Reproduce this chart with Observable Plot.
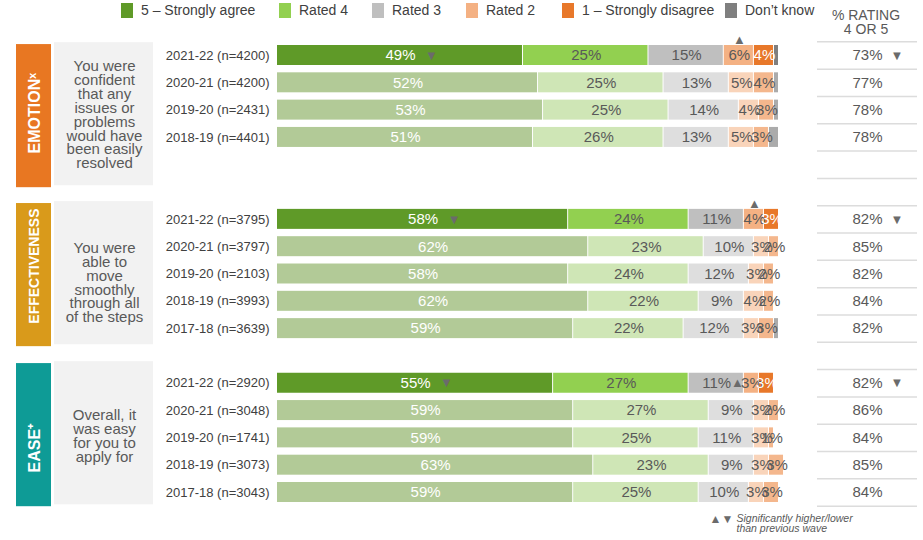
<!DOCTYPE html>
<html><head><meta charset="utf-8">
<script src="https://cdn.jsdelivr.net/npm/d3@7"></script>
<script src="https://cdn.jsdelivr.net/npm/@observablehq/plot@0.6"></script>
<style>
body{margin:0;background:#fff;font-family:"Liberation Sans",Arial,sans-serif;}
#wrap{position:relative;width:923px;height:540px;overflow:hidden;}
#legend{position:relative;width:923px;height:28px;z-index:2;}
#chart{position:relative;z-index:1;}
.sw{position:absolute;top:3px;width:12px;height:15px;}
.lt{position:absolute;top:1px;font-size:14px;color:#404040;line-height:18px;white-space:nowrap;}
.hdr{position:absolute;left:816px;width:100px;top:8px;text-align:center;font-size:14px;line-height:14px;color:#595959;}
</style></head><body>
<div id="wrap"><div id="legend"></div><div id="chart"></div></div>
<script>
// ---------- data ----------
const categories = ["5 – Strongly agree", "Rated 4", "Rated 3", "Rated 2", "1 – Strongly disagree", "Don’t know"];
const groupNames = ["EMOTIONˣ", "EFFECTIVENESS", "EASE⁺"];
const questions = [
  "You were\nconfident\nthat any\nissues or\nproblems\nwould have\nbeen easily\nresolved",
  "You were\nable to\nmove\nsmoothly\nthrough all\nof the steps",
  "Overall, it\nwas easy\nfor you to\napply for"
];
const rowGroup = [0,0,0,0, 1,1,1,1,1, 2,2,2,2,2];
const rowLabels = [
  "2021-22 (n=4200)", "2020-21 (n=4200)", "2019-20 (n=2431)", "2018-19 (n=4401)",
  "2021-22 (n=3795)", "2020-21 (n=3797)", "2019-20 (n=2103)", "2018-19 (n=3993)", "2017-18 (n=3639)",
  "2021-22 (n=2920)", "2020-21 (n=3048)", "2019-20 (n=1741)", "2018-19 (n=3073)", "2017-18 (n=3043)"
];
const agree5    = [49,52,53,51, 58,62,58,62,59, 55,59,59,63,59];
const rated4    = [25,25,25,26, 24,23,24,22,22, 27,27,25,23,25];
const rated3    = [15,13,14,13, 11,10,12, 9,12, 11, 9,11, 9,10];
const rated2    = [ 6, 5, 4, 5,  4, 3, 3, 4, 3,  3, 3, 3, 3, 3];
const disagree1 = [ 4, 4, 3, 3,  3, 2, 2, 2, 3,  3, 2, 1, 3, 3];
const dontKnow  = [ 1, 1, 1, 2,  0, 0, 0, 0, 1,  0, 0, 0, 0, 0];
const rating45  = [73,77,78,78, 82,85,82,84,82, 82,86,84,85,84];
const sigLowerRows = [0, 4, 9];        // significantly lower than previous wave (strongly agree & % 4 or 5)
const sigHigherRows = [0, 4, 9];       // rated 2 significantly higher

// ---------- styles / layout ----------
const vivid = ["#5f9a28", "#92d050", "#bfbfbf", "#f4b183", "#e8782a", "#7f7f7f"];
const faded = ["#b2ca97", "#cfe6b6", "#dedede", "#f9d4ba", "#f4b78d", "#ababab"];
const groupColors = ["#e87722", "#d99a1b", "#0e9b96"];
const legendX = [121, 279, 372, 466, 562, 725];
const titleDy = [-3, -9, 13];
const questionDy = [-1, 8, 1];
const sigUpPlacement = ["above", "above", "left"];
const PX = 27.3125; // pixels per slot
const TOP = 28;     // svg offset below the legend

// legend (HTML above the svg)
const leg = document.getElementById("legend");
categories.forEach((c, i) => {
  const s = document.createElement("div"); s.className = "sw"; s.style.left = legendX[i] + "px"; s.style.background = vivid[i]; leg.appendChild(s);
  const t = document.createElement("div"); t.className = "lt"; t.style.left = (legendX[i] + 20) + "px"; t.textContent = c; leg.appendChild(t);
});
const hdr = document.createElement("div"); hdr.className = "hdr"; hdr.innerHTML = "% RATING<br>4 OR 5"; leg.appendChild(hdr);

// build rows & segments
const rows = rowLabels.map((label, i) => {
  const g = rowGroup[i];
  const k = rowGroup.slice(0, i).filter(x => x === g).length;
  return {i, g, k, label, slot: g * 6 + k, current: k === 0,
    vals: [agree5[i], rated4[i], rated3[i], rated2[i], disagree1[i], dontKnow[i]], r45: rating45[i]};
});
const segs = [];
rows.forEach(r => {
  let c = 0;
  r.vals.forEach((v, j) => {
    segs.push({r, j, v, x1: c, x2: c + v, slot: r.slot, fill: (r.current ? vivid : faded)[j],
      labelFill: (j === 0 || (j === 4 && r.current)) ? "#ffffff" : "#595959"});
    c += v;
  });
});
const groups = groupNames.map((name, g) => ({g, name, q: questions[g], start: g * 6}));
const boxTop = [-0.40, -0.58, -0.72];
const boxH = 5.24;
const boundaries = groups.flatMap(G => d3.range(6).map(k => G.start - 0.5 + k));
const segOf = (row, j) => segs.find(s => s.r.i === row && s.j === j);
const upMarks = sigHigherRows.map(row => ({seg: segOf(row, 3), place: sigUpPlacement[rowGroup[row]]}));

const FONT = "Liberation Sans, Arial, sans-serif";
const H = 0.366;
const boxMid = d => d.start + boxTop[d.g] + boxH / 2;

const plot = Plot.plot({
  width: 923, height: 540 - TOP,
  marginTop: 0, marginRight: 0, marginBottom: 0, marginLeft: 0,
  x: {domain: [0, 100], range: [277, 779], axis: null},
  y: {domain: [0, 16], range: [55 - TOP, 492 - TOP], axis: null},
  color: {type: "identity"},
  style: {fontFamily: FONT, background: "transparent", overflow: "visible"},
  marks: [
    // left panels
    Plot.rect(groups, {y1: d => d.start + boxTop[d.g], y2: d => d.start + boxTop[d.g] + boxH, fill: d => groupColors[d.g], insetLeft: 16, insetRight: 923 - 51}),
    Plot.rect(groups, {y1: d => d.start + boxTop[d.g] - 0.07, y2: d => d.start + boxTop[d.g] + boxH - 0.07, fill: "#f2f2f2", insetLeft: 54, insetRight: 923 - 153}),
    Plot.text(groups.filter(d => d.g !== 1), {frameAnchor: "left", dx: 34, y: d => boxMid(d) + titleDy[d.g] / PX, text: "name", rotate: -90,
      fill: "white", fontWeight: "bold", fontSize: 16, textAnchor: "middle"}),
    Plot.text(groups.filter(d => d.g === 1), {frameAnchor: "left", dx: 34, y: d => boxMid(d) + titleDy[d.g] / PX, text: "name", rotate: -90,
      fill: "white", fontWeight: "bold", fontSize: 14, textAnchor: "middle"}),
    Plot.text(groups, {frameAnchor: "left", dx: 104, y: d => boxMid(d) + questionDy[d.g] / PX, text: "q",
      fill: "#595959", fontSize: 15, lineHeight: 0.93, textAnchor: "middle"}),
    // row labels
    Plot.text(rows, {x: 0, y: "slot", text: "label", dx: -8, textAnchor: "end", fill: "#404040", fontSize: 13}),
    // bars
    Plot.rect(segs.filter(d => d.v > 0), {x1: "x1", x2: "x2", y1: d => d.slot - H, y2: d => d.slot + H, fill: "fill", insetRight: 1}),
    Plot.text(segs.filter(d => d.v > 0 && d.j < 5), {x: d => (d.x1 + d.x2) / 2, y: "slot", text: d => d.v + "%", fill: "labelFill", fontSize: 15}),
    // significance markers
    Plot.text(sigLowerRows.map(i => segOf(i, 0)), {x: d => (d.x1 + d.x2) / 2, y: "slot", dx: 31, text: () => "▼", fill: "#6b6b6b", fontSize: 13}),
    Plot.text(upMarks.filter(d => d.place === "above"), {x: d => (d.seg.x1 + d.seg.x2) / 2, y: d => d.seg.slot - H, dy: -6, text: () => "▲", fill: "#6b6b6b", fontSize: 13}),
    Plot.text(upMarks.filter(d => d.place === "left"), {x: d => d.seg.x1, y: d => d.seg.slot, dx: -7, text: () => "▲", fill: "#6b6b6b", fontSize: 13}),
    // right column
    Plot.ruleY(boundaries, {y: d => d, stroke: "#dcdcdc", strokeWidth: 1.5, insetLeft: 817, insetRight: 6}),
    Plot.text(rows, {frameAnchor: "left", dx: 867, y: "slot", text: d => d.r45 + "%", fill: "#595959", fontSize: 15, textAnchor: "middle"}),
    Plot.text(sigLowerRows.map(i => rows[i]), {frameAnchor: "left", dx: 890, y: "slot", text: () => "▼", fill: "#6b6b6b", fontSize: 13}),
    // note
    Plot.text(["▲▼"], {frameAnchor: "top-left", dx: 709, dy: 514 - TOP, text: d => d, fill: "#6b6b6b", fontSize: 12, textAnchor: "start", lineAnchor: "top"}),
    Plot.text(["Significantly higher/lower\nthan previous wave"], {frameAnchor: "top-left", dx: 736, dy: 514 - TOP, text: d => d, fill: "#595959", fontSize: 10.5, fontStyle: "italic", textAnchor: "start", lineAnchor: "top", lineHeight: 0.95})
  ]
});
document.getElementById("chart").appendChild(plot);
</script>
</body></html>
